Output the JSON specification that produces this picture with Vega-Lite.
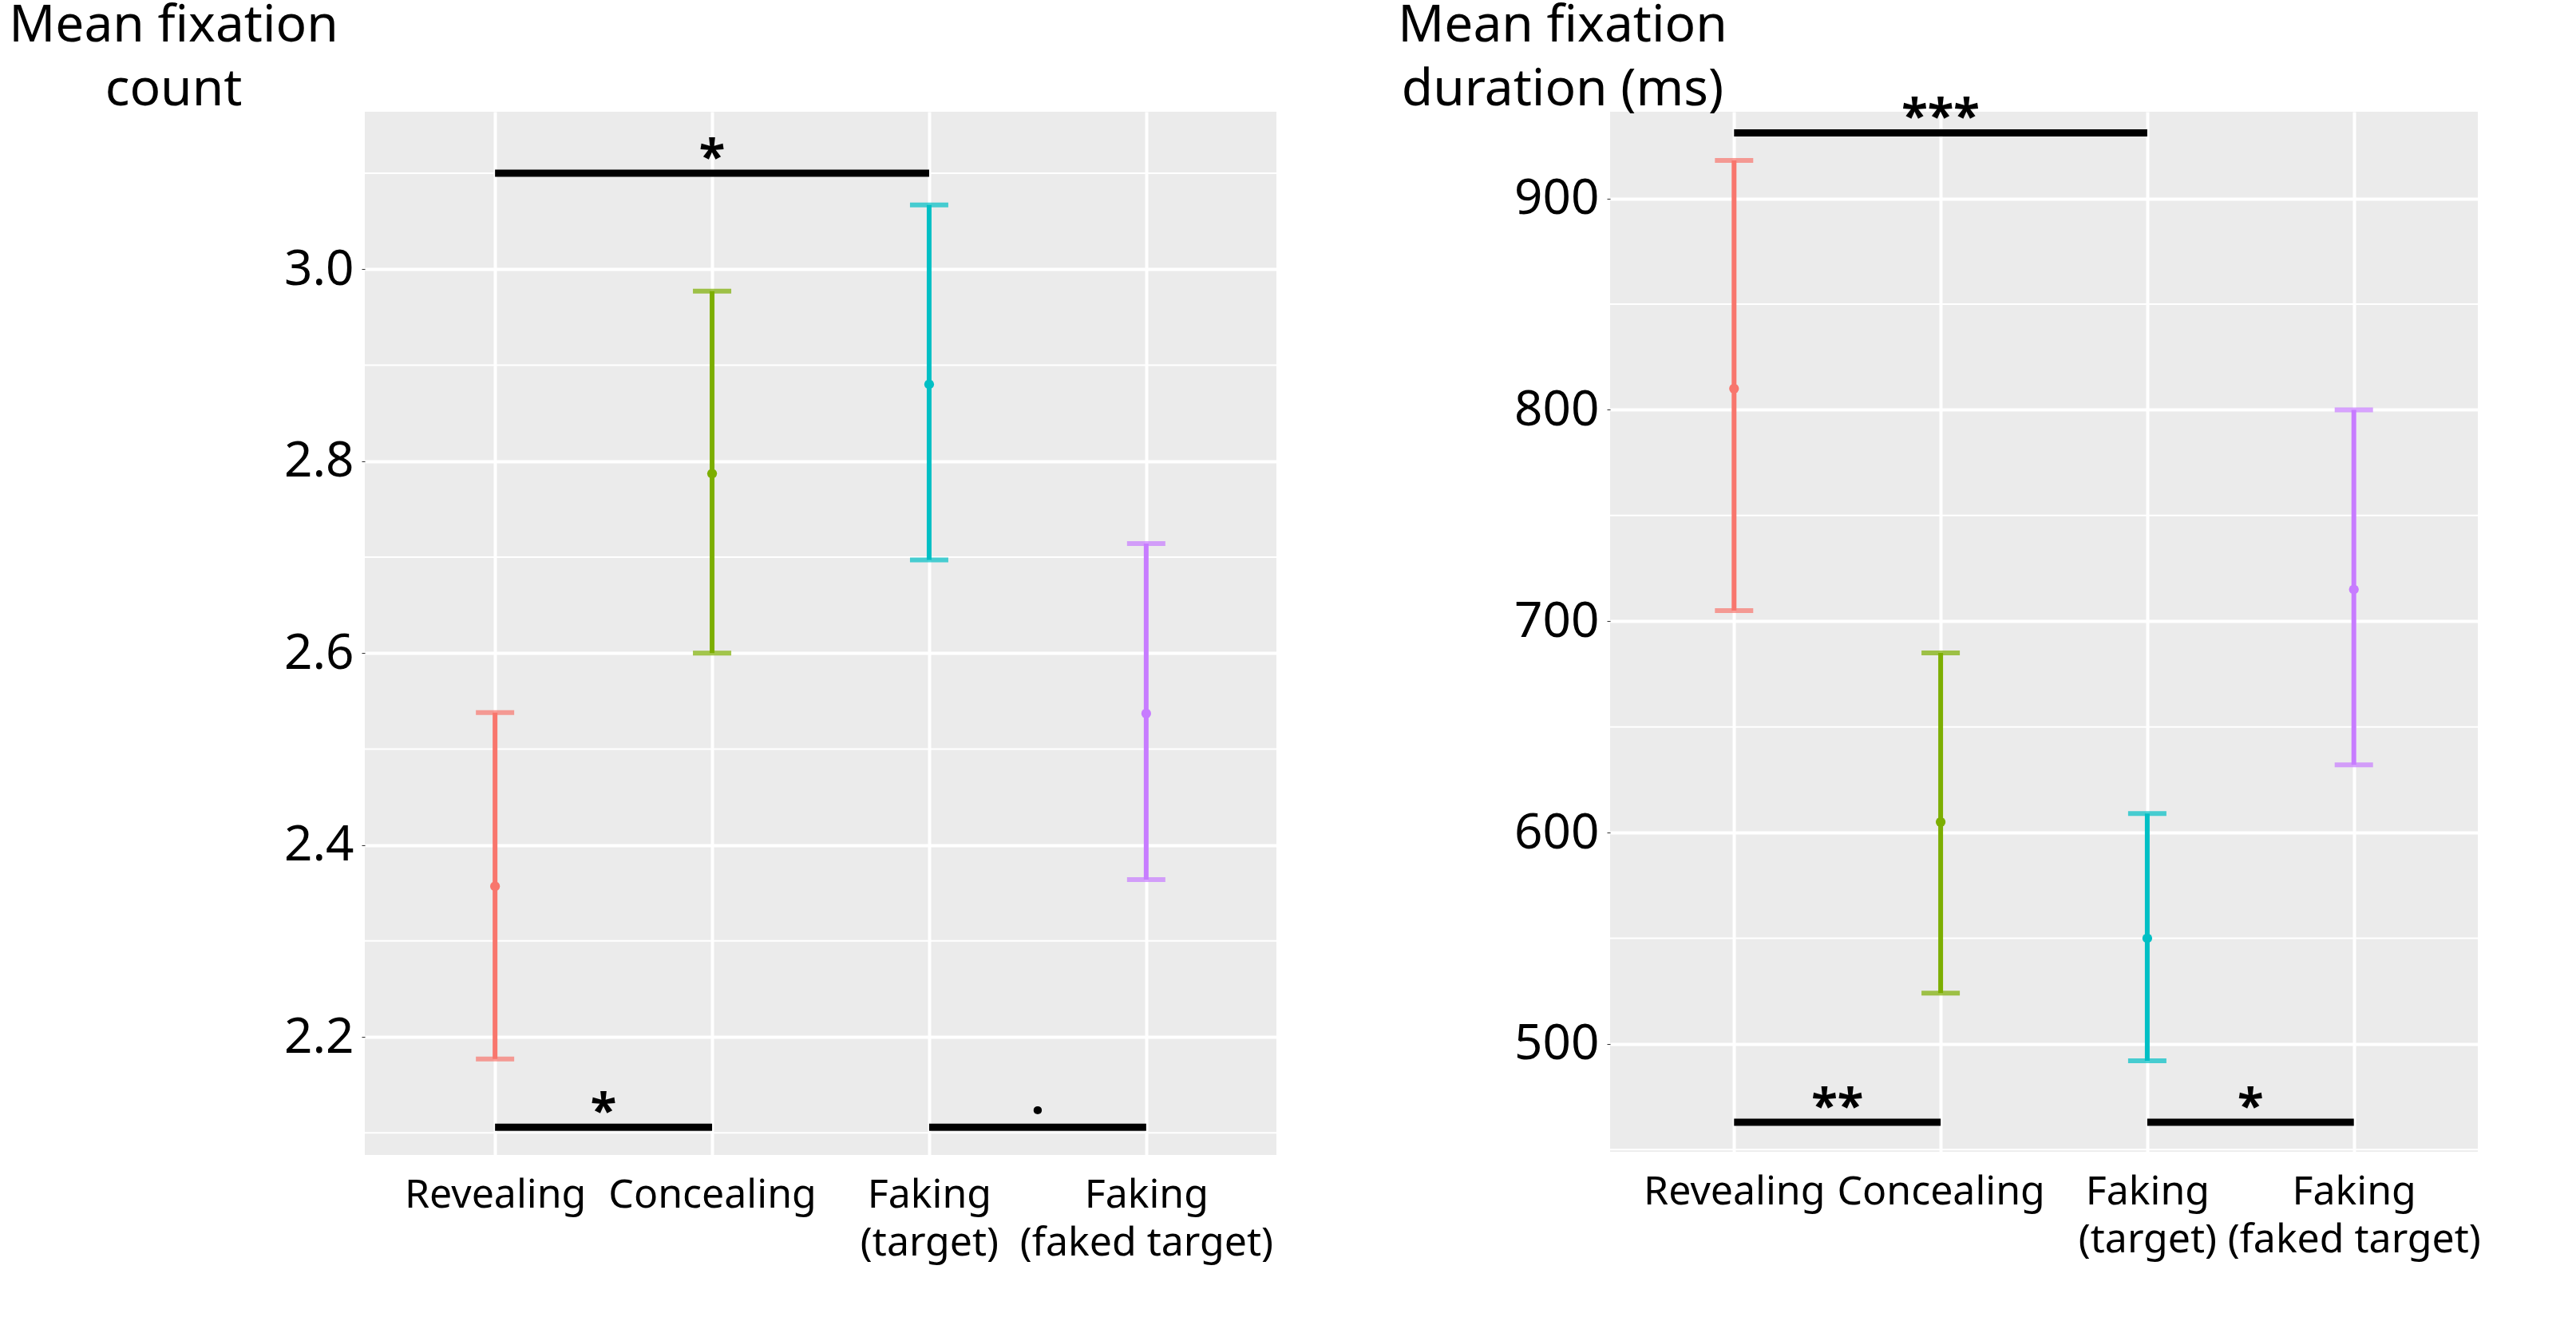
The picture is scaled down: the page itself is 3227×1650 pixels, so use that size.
{
"$schema":"https://vega.github.io/schema/vega-lite/v6.json",
"background":"white",
"padding":{"left":10,"top":0,"right":10,"bottom":5},
"spacing":150,
"config":{"view":{"fill":"#EBEBEB","stroke":null},"font":"Noto Sans",
 "axis":{"gridColor":"white","gridWidth":4,"domain":false,"tickColor":"#333","labelColor":"black","labelFont":"Noto Sans","labelLimit":0}},
"datasets":{
"c":[{"x":1,"mean":2.357,"lo":2.177,"hi":2.538,"g":"Revealing"},{"x":2,"mean":2.787,"lo":2.6,"hi":2.977,"g":"Concealing"},{"x":3,"mean":2.88,"lo":2.697,"hi":3.067,"g":"Faking (target)"},{"x":4,"mean":2.537,"lo":2.364,"hi":2.714,"g":"Faking (faked target)"}],
"d":[{"x":1,"mean":810,"lo":705,"hi":918,"g":"Revealing"},{"x":2,"mean":605,"lo":524,"hi":685,"g":"Concealing"},{"x":3,"mean":550,"lo":492,"hi":609,"g":"Faking (target)"},{"x":4,"mean":715,"lo":632,"hi":800,"g":"Faking (faked target)"}],
"sc":[{"x1":1,"x2":3,"xm":2,"y":3.1,"t":"*"},{"x1":1,"x2":2,"xm":1.5,"y":2.106,"t":"*"},{"x1":3,"x2":4,"xm":3.5,"y":2.106,"t":"·"}],
"sd":[{"x1":1,"x2":3,"xm":2,"y":931,"t":"***"},{"x1":1,"x2":2,"xm":1.5,"y":463,"t":"**"},{"x1":3,"x2":4,"xm":3.5,"y":463,"t":"*"}],
"mc":[{"y":2.1},{"y":2.3},{"y":2.5},{"y":2.7},{"y":2.9},{"y":3.1}],
"md":[{"y":450},{"y":550},{"y":650},{"y":750},{"y":850}]
},
"hconcat":[
{"width":1142,"height":1307,
 "layer":[
  {"data":{"name":"mc"},"mark":{"type":"rule","color":"white","strokeWidth":2},"encoding":{"y":{"field":"y","type":"quantitative","scale":{"domain":[2.077,3.164],"nice":false,"zero":false}}}},
  {"data":{"name":"c"},"mark":{"type":"rule","strokeWidth":6},
   "encoding":{"x":{"field":"x","type":"quantitative","scale":{"domain":[0.4,4.6],"nice":false},
     "axis":{"values":[1,2,3,4],"title":null,"ticks":false,"labelFontSize":50,"labelPadding":25,"labelBaseline":"top","labelLineHeight":60,"labelExpr":"datum.value==1?'Revealing':datum.value==2?'Concealing':datum.value==3?['Faking','(target)']:['Faking','(faked target)']"}},
    "y":{"field":"lo","type":"quantitative","axis":{"values":[2.2,2.4,2.6,2.8,3.0],"format":".1f","labelFontSize":62,"tickSize":4,"labelPadding":10,"title":["Mean fixation","count"],"titleAngle":0,"titleFontSize":64,"titleFontWeight":"normal","titleAlign":"center","titleBaseline":"top","titleX":-240,"titleY":-140,"titleLineHeight":80}},
    "y2":{"field":"hi"},
    "color":{"field":"g","type":"nominal","scale":{"domain":["Revealing","Concealing","Faking (target)","Faking (faked target)"],"range":["#F8766D","#7CAE00","#00BFC4","#C77CFF"]},"legend":null}}},
  {"data":{"name":"c"},"mark":{"type":"tick","orient":"horizontal","size":48,"thickness":6},"encoding":{"x":{"field":"x","type":"quantitative"},"y":{"field":"lo","type":"quantitative"},"color":{"field":"g","type":"nominal","legend":null}}},
  {"data":{"name":"c"},"mark":{"type":"tick","orient":"horizontal","size":48,"thickness":6},"encoding":{"x":{"field":"x","type":"quantitative"},"y":{"field":"hi","type":"quantitative"},"color":{"field":"g","type":"nominal","legend":null}}},
  {"data":{"name":"c"},"mark":{"type":"point","filled":true,"size":150,"opacity":1},"encoding":{"x":{"field":"x","type":"quantitative"},"y":{"field":"mean","type":"quantitative"},"color":{"field":"g","type":"nominal","legend":null}}},
  {"data":{"name":"sc"},"mark":{"type":"rule","strokeWidth":9,"color":"black"},"encoding":{"x":{"field":"x1","type":"quantitative"},"x2":{"field":"x2"},"y":{"field":"y","type":"quantitative"}}},
  {"data":{"name":"sc"},"mark":{"type":"text","fontSize":60,"fontWeight":"bold","baseline":"alphabetic","dy":0},"encoding":{"x":{"field":"xm","type":"quantitative"},"y":{"field":"y","type":"quantitative"},"text":{"field":"t"}}}
 ]},
{"width":1087,"height":1303,
 "layer":[
  {"data":{"name":"md"},"mark":{"type":"rule","color":"white","strokeWidth":2},"encoding":{"y":{"field":"y","type":"quantitative","scale":{"domain":[449,941],"nice":false,"zero":false}}}},
  {"data":{"name":"d"},"mark":{"type":"rule","strokeWidth":6},
   "encoding":{"x":{"field":"x","type":"quantitative","scale":{"domain":[0.4,4.6],"nice":false},
     "axis":{"values":[1,2,3,4],"title":null,"ticks":false,"labelFontSize":50,"labelPadding":25,"labelBaseline":"top","labelLineHeight":60,"labelExpr":"datum.value==1?'Revealing':datum.value==2?'Concealing':datum.value==3?['Faking','(target)']:['Faking','(faked target)']"}},
    "y":{"field":"lo","type":"quantitative","axis":{"values":[500,600,700,800,900],"labelFontSize":62,"tickSize":4,"labelPadding":10,"title":["Mean fixation","duration (ms)"],"titleAngle":0,"titleFontSize":64,"titleFontWeight":"normal","titleAlign":"center","titleBaseline":"top","titleX":-60,"titleY":-140,"titleLineHeight":80}},
    "y2":{"field":"hi"},
    "color":{"field":"g","type":"nominal","scale":{"domain":["Revealing","Concealing","Faking (target)","Faking (faked target)"],"range":["#F8766D","#7CAE00","#00BFC4","#C77CFF"]},"legend":null}}},
  {"data":{"name":"d"},"mark":{"type":"tick","orient":"horizontal","size":48,"thickness":6},"encoding":{"x":{"field":"x","type":"quantitative"},"y":{"field":"lo","type":"quantitative"},"color":{"field":"g","type":"nominal","legend":null}}},
  {"data":{"name":"d"},"mark":{"type":"tick","orient":"horizontal","size":48,"thickness":6},"encoding":{"x":{"field":"x","type":"quantitative"},"y":{"field":"hi","type":"quantitative"},"color":{"field":"g","type":"nominal","legend":null}}},
  {"data":{"name":"d"},"mark":{"type":"point","filled":true,"size":150,"opacity":1},"encoding":{"x":{"field":"x","type":"quantitative"},"y":{"field":"mean","type":"quantitative"},"color":{"field":"g","type":"nominal","legend":null}}},
  {"data":{"name":"sd"},"mark":{"type":"rule","strokeWidth":9,"color":"black"},"encoding":{"x":{"field":"x1","type":"quantitative"},"x2":{"field":"x2"},"y":{"field":"y","type":"quantitative"}}},
  {"data":{"name":"sd"},"mark":{"type":"text","fontSize":60,"fontWeight":"bold","baseline":"alphabetic","dy":0},"encoding":{"x":{"field":"xm","type":"quantitative"},"y":{"field":"y","type":"quantitative"},"text":{"field":"t"}}}
 ]}
]
}
